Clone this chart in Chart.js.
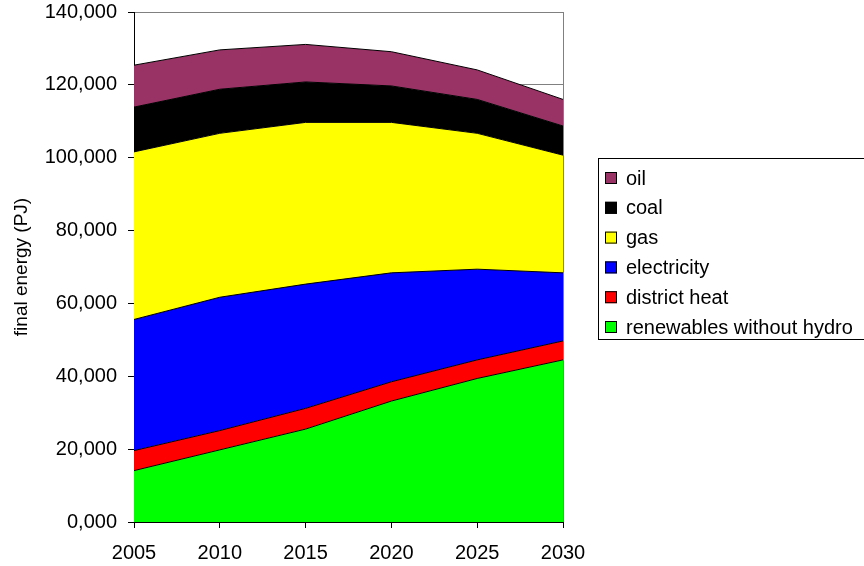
<!DOCTYPE html>
<html lang="en">
<head>
    <meta charset="UTF-8">
    <title>Final energy by carrier</title>
    <script src="https://cdn.jsdelivr.net/npm/chart.js"></script>
    <style>
        html, body {
            margin: 0;
            padding: 0;
            background: #fff;
        }
        #wrap {
            width: 864px;
            height: 566px;
            position: relative;
        }
    </style>
</head>
<body>
    <div id="wrap">
        <canvas id="energyChart" width="864" height="566"></canvas>
    </div>

    <script>
        // years on the x axis
        const years = ['2005', '2010', '2015', '2020', '2025', '2030'];

        // final energy per carrier, PJ
        const renewables = [14100, 19800, 25500, 33200, 39400, 44500];
        const districtHeat = [5500, 5300, 5700, 5300, 5100, 5200];
        const electricity = [36000, 36600, 34100, 29900, 24900, 18700];
        const gas = [46000, 45000, 44400, 41300, 37300, 32300];
        const coal = [12300, 12100, 11100, 10000, 9300, 8000];
        const oil = [11500, 10800, 10300, 9400, 8100, 7300];

        const yTicks = [0, 20000, 40000, 60000, 80000, 100000, 120000, 140000];

        const FONT = 'Arial, "Liberation Sans", sans-serif';

        function fmt(v) {
            if (v === 0) return '0,000';
            return v.toLocaleString('en-US');
        }

        function area(label, data, color, first) {
            return {
                label: label,
                data: data,
                backgroundColor: color,
                borderColor: '#000',
                borderWidth: 1,
                pointRadius: 0,
                tension: 0,
                fill: first ? 'origin' : '-1'
            };
        }

        // legend box on the right, drawn by hand (top item = top area)
        const boxLegend = {
            id: 'boxLegend',
            afterDraw(chart) {
                const c = chart.ctx;
                const ds = chart.data.datasets.slice().reverse();
                c.save();
                c.strokeStyle = '#000';
                c.lineWidth = 1;
                c.strokeRect(598.5, 158.5, 280, 181);
                c.font = '20px ' + FONT;
                c.textBaseline = 'middle';
                ds.forEach((d, i) => {
                    const y = 178 + i * 29.8;
                    c.fillStyle = d.backgroundColor;
                    c.fillRect(605, y - 6, 12, 12);
                    c.strokeStyle = '#000';
                    c.strokeRect(605.5, y - 5.5, 11, 11);
                    c.fillStyle = '#000';
                    c.fillText(d.label, 626, y + 1);
                });
                c.restore();
            }
        };

        const ctx = document.getElementById('energyChart').getContext('2d');

        new Chart(ctx, {
            type: 'line',
            data: {
                labels: years,
                datasets: [
                    area('renewables without hydro', renewables, '#00ff00', true),
                    area('district heat', districtHeat, '#ff0000'),
                    area('electricity', electricity, '#0000ff'),
                    area('gas', gas, '#ffff00'),
                    area('coal', coal, '#000000'),
                    area('oil', oil, '#993366')
                ]
            },
            options: {
                responsive: false,
                animation: false,
                layout: {
                    padding: { left: 0, right: 301, top: 12, bottom: 0 }
                },
                plugins: {
                    legend: { display: false },
                    tooltip: { enabled: false }
                },
                scales: {
                    x: {
                        offset: false,
                        grid: {
                            drawOnChartArea: true,
                            color: c => c.index === years.length - 1 ? '#808080' : 'rgba(0,0,0,0)',
                            tickColor: '#000',
                            tickLength: 6
                        },
                        border: { color: '#000', width: 1 },
                        ticks: {
                            color: '#000',
                            font: { family: FONT, size: 20 },
                            maxRotation: 0,
                            padding: 13
                        },
                        afterFit: s => {
                            s.height = 44;
                            s.paddingLeft = 0;
                            s.paddingRight = 0;
                        }
                    },
                    y: {
                        stacked: true,
                        min: 0,
                        max: 140000,
                        afterBuildTicks: s => { s.ticks = yTicks.map(v => ({ value: v })); },
                        grid: {
                            color: '#808080',
                            tickColor: '#000',
                            tickLength: 6
                        },
                        border: { color: '#000', width: 1 },
                        ticks: {
                            color: '#000',
                            font: { family: FONT, size: 20 },
                            padding: 11,
                            callback: v => fmt(v)
                        },
                        title: {
                            display: true,
                            text: 'final energy (PJ)',
                            color: '#000',
                            font: { family: FONT, size: 19 },
                            padding: { top: 10, bottom: 0 }
                        },
                        afterFit: s => {
                            s.width = 134;
                            s.paddingTop = 0;
                            s.paddingBottom = 0;
                        }
                    }
                }
            },
            plugins: [boxLegend]
        });
    </script>
</body>
</html>
